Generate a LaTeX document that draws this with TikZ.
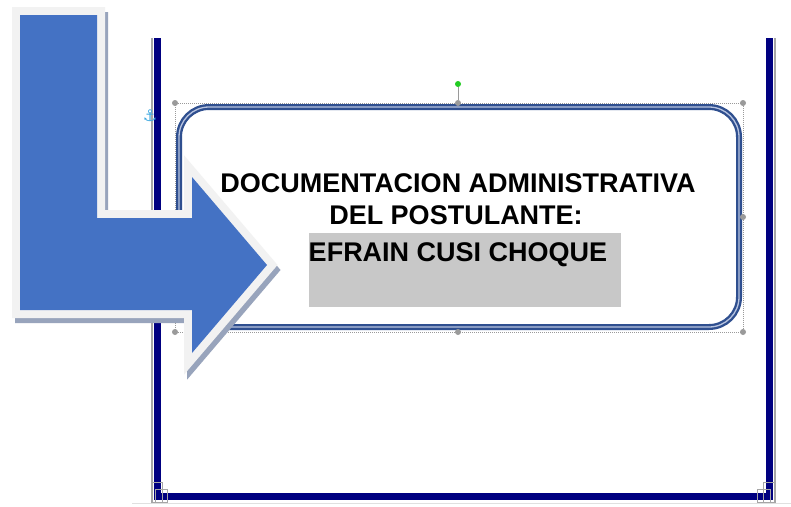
\documentclass[tikz,border=0pt]{standalone}
\usepackage{fontspec}
\setmainfont{Liberation Sans}
\newfontfamily\dejavu{DejaVu Sans}
\definecolor{arrowblue}{HTML}{4472C4}
\definecolor{glow}{HTML}{F2F2F2}
\definecolor{shadowc}{HTML}{98A4BC}
\definecolor{navy}{HTML}{000080}
\definecolor{lgrey}{HTML}{A6A6A6}
\definecolor{hilite}{HTML}{C8C8C8}
\definecolor{boxdark}{HTML}{2F4F8F}
\definecolor{boxlight}{HTML}{B8C4E0}
\definecolor{handlegrey}{HTML}{9A9A9A}
\definecolor{handlegreen}{HTML}{22CC22}
\definecolor{anchorblue}{HTML}{3FA9E0}
\tikzset{
  lpath/.style={insert path={(20,15) -- (97,15) -- (97,218) -- (192,218) -- (192,177) -- (267,265) -- (192,353) -- (192,310) -- (20,310) -- cycle}},
  navyline/.style={draw=navy, line width=7pt},
  greyline/.style={draw=lgrey, line width=1.6pt},
  handle/.style={circle, fill=handlegrey, inner sep=0pt, minimum size=6pt},
  ghandle/.style={circle, fill=handlegreen, inner sep=0pt, minimum size=6pt},
  title/.style={font=\bfseries\fontsize{27}{31}\selectfont, anchor=base, inner sep=0pt},
  cornermark/.style={draw=lgrey, line width=0.8pt}
}
\begin{document}
\begin{tikzpicture}[x=1pt,y=-1pt]
\useasboundingbox (0,0) rectangle (791,506);
\fill[white] (0,0) rectangle (791,506);
% page frame lines
\coordinate (lt) at (157.5,38);
\coordinate (lb) at (157.5,496.5);
\coordinate (rt) at (769,38);
\coordinate (rb) at (769,496.5);
\draw[draw=black!12, line width=1pt] (132,503) -- (791,503);
\draw[greyline] (152,38) -- (152,503);
\draw[greyline] (775,38) -- (775,503);
\draw[navyline, line join=miter] (lt) -- (lb) -- (rb) -- (rt);
% corner marks
\draw[cornermark] (151,482) rectangle (162,502);
\draw[cornermark] (155,489) rectangle (167,502);
\draw[cornermark] (757,489) rectangle (770,502);
\draw[cornermark] (763,482) rectangle (774,502);
% anchor
\node[text=anchorblue, font=\dejavu\fontsize{16}{16}\selectfont, inner sep=0pt] (anch) at (150,116) {⚓};
% selection box
\draw[draw=handlegrey, line width=0.7pt, dash pattern=on 1pt off 1pt] (175,103) rectangle (743,332);
% rounded text box
\draw[draw=boxdark, line width=6pt, rounded corners=30pt] (179,107) rectangle (739,327);
\draw[draw=boxlight, line width=1.3pt, rounded corners=30pt] (179,107) rectangle (739,327);
% handles
\node[handle] (htl) at (175,103) {};
\node[handle] (htm) at (458,103) {};
\node[handle] (htr) at (743,103) {};
\node[handle] (hmr) at (743,217) {};
\node[handle] (hbr) at (743,332) {};
\node[handle] (hbm) at (458,332) {};
\node[handle] (hbl) at (175,332) {};
\node[ghandle] (hrot) at (458,84) {};
\draw[draw=handlegrey, line width=1pt] (hrot) -- (htm);
% highlight and text
\fill[hilite] (309,233) rectangle (621,307);
\node[title] (t1) at (458,192) {DOCUMENTACION ADMINISTRATIVA};
\node[title] (t2) at (456,224) {DEL POSTULANTE:};
\node[title] (t3) at (458,261) {EFRAIN CUSI CHOQUE};
% L arrow
\path[fill=shadowc, draw=shadowc, line width=16pt, line join=miter, miter limit=4, shift={(3,5)}, lpath];
\path[fill=glow, draw=glow, line width=16pt, line join=miter, miter limit=4, lpath];
\path[fill=arrowblue, lpath];
\end{tikzpicture}
\end{document}
